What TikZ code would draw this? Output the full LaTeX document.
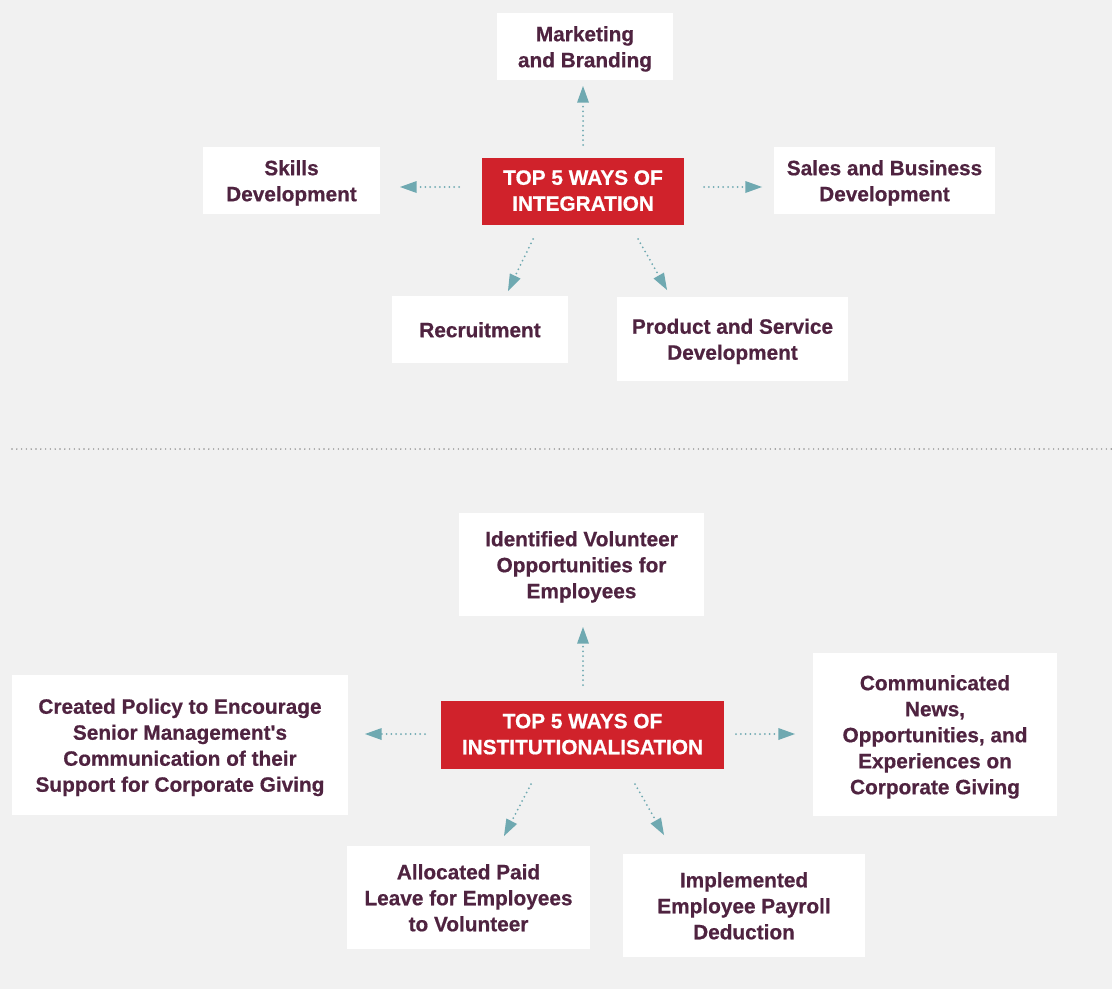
\documentclass[tikz,border=0pt]{standalone}
\usepackage{fontspec}
\setmainfont{Liberation Sans}[BoldFeatures={FakeBold=0.6}]
\usetikzlibrary{arrows.meta}
\definecolor{bg}{HTML}{F1F1F1}
\definecolor{redbox}{HTML}{D0222B}
\definecolor{txt}{HTML}{4F2340}
\definecolor{teal}{HTML}{6FA9B1}
\definecolor{sep}{HTML}{8C8C8C}
\newcommand\tx[2][1.9pt]{\raisebox{-#1}[\height][\depth]{\begin{tabular}{@{}c@{}}#2\end{tabular}}}
\begin{document}
\begin{tikzpicture}[x=0.75pt,y=-0.75pt,
  item/.style={fill=white, inner sep=0pt, align=center, text=txt,
    font=\fontsize{15.6pt}{19.5pt}\selectfont\bfseries},
  hub/.style={fill=redbox, inner sep=0pt, align=center, text=white,
    font=\fontsize{15.6pt}{19.5pt}\selectfont\bfseries},
  arr/.style={teal, line width=1.5pt, line cap=round, dash pattern=on 0pt off 3.6pt,
    -{Triangle[length=12.5pt,width=9pt,line width=0pt,round=false]}},
]
\fill[bg] (0,0) rectangle (1112,989);
\useasboundingbox (0,0) rectangle (1112,989);

% ---------- Integration ----------
\node[hub, minimum width=152pt, minimum height=50.25pt] (int) at (583,191.5) {\tx[0.8pt]{TOP 5 WAYS OF\\INTEGRATION}};
\node[item, minimum width=132pt, minimum height=50.25pt] (mkt) at (585,46.5) {\tx{Marketing\\and Branding}};
\node[item, minimum width=132.75pt, minimum height=50.25pt] (skl) at (291.5,180.5) {\tx{Skills\\Development}};
\node[item, minimum width=165.75pt, minimum height=50.25pt] (sal) at (884.5,180.5) {\tx{Sales and Business\\Development}};
\node[item, minimum width=132pt, minimum height=50.25pt] (rec) at (480,329.5) {\tx{Recruitment}};
\node[item, minimum width=173.25pt, minimum height=63pt] (prd) at (732.5,339) {\tx{Product and Service\\Development}};

\coordinate (i1s) at (583,145);  \coordinate (i1e) at (583,86);
\coordinate (i2s) at (459,187);  \coordinate (i2e) at (400,187);
\coordinate (i3s) at (704,187);  \coordinate (i3e) at (762,187);
\coordinate (i4s) at (533,239);  \coordinate (i4e) at (508,291);
\coordinate (i5s) at (638,239);  \coordinate (i5e) at (667,290);
\draw[arr] (i1s) -- (i1e);
\draw[arr] (i2s) -- (i2e);
\draw[arr] (i3s) -- (i3e);
\draw[arr] (i4s) -- (i4e);
\draw[arr] (i5s) -- (i5e);

% ---------- separator ----------
\coordinate (sepL) at (12,449); \coordinate (sepR) at (1112,449);
\draw[sep, line width=1.2pt, line cap=round, dash pattern=on 0pt off 3.6pt] (sepL) -- (sepR);

% ---------- Institutionalisation ----------
\node[hub, minimum width=212.25pt, minimum height=51pt] (ins) at (582.5,735) {\tx[0.8pt]{TOP 5 WAYS OF\\INSTITUTIONALISATION}};
\node[item, minimum width=183.75pt, minimum height=77.25pt] (vol) at (581.5,564.5) {\tx{Identified Volunteer\\Opportunities for\\Employees}};
\node[item, minimum width=252pt, minimum height=105pt] (pol) at (180,745) {\tx{Created Policy to Encourage\\Senior Management\textquotesingle s\\Communication of their\\Support for Corporate Giving}};
\node[item, minimum width=183pt, minimum height=122.25pt] (com) at (935,734.5) {\tx{Communicated\\News,\\Opportunities, and\\Experiences on\\Corporate Giving}};
\node[item, minimum width=182.25pt, minimum height=77.25pt] (alo) at (468.5,897.5) {\tx{Allocated Paid\\Leave for Employees\\to Volunteer}};
\node[item, minimum width=181.5pt, minimum height=77.25pt] (imp) at (744,905.5) {\tx{Implemented\\Employee Payroll\\Deduction}};

\coordinate (j1s) at (583,685);  \coordinate (j1e) at (583,627);
\coordinate (j2s) at (425,734);  \coordinate (j2e) at (365,734);
\coordinate (j3s) at (736,734);  \coordinate (j3e) at (795,734);
\coordinate (j4s) at (531,784);  \coordinate (j4e) at (504,836);
\coordinate (j5s) at (635,784);  \coordinate (j5e) at (664,835);
\draw[arr] (j1s) -- (j1e);
\draw[arr] (j2s) -- (j2e);
\draw[arr] (j3s) -- (j3e);
\draw[arr] (j4s) -- (j4e);
\draw[arr] (j5s) -- (j5e);
\end{tikzpicture}
\end{document}
